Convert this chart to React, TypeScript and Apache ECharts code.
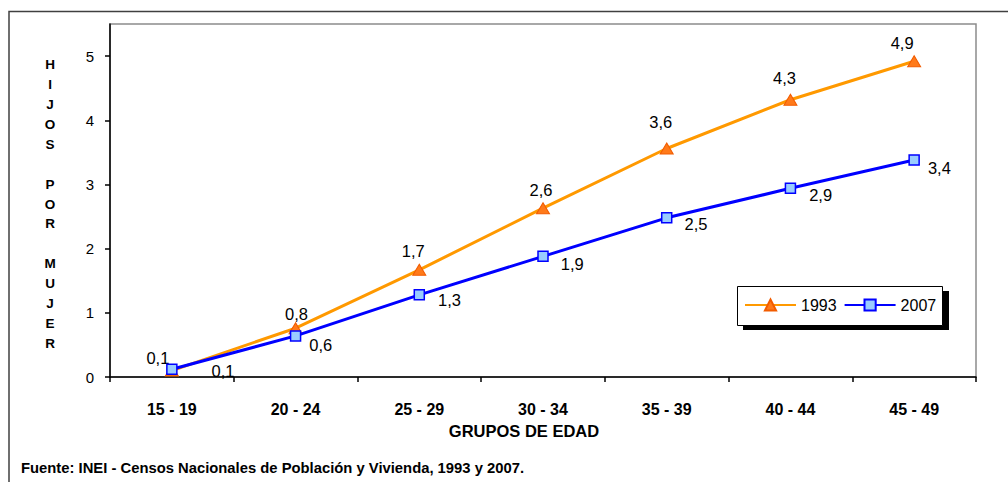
import { useEffect, useRef } from "react";
import * as echarts from "echarts";

const categories = ["15 - 19", "20 - 24", "25 - 29", "30 - 34", "35 - 39", "40 - 44", "45 - 49"];
const values1993 = [0.1, 0.76, 1.67, 2.63, 3.56, 4.32, 4.92];
const values2007 = [0.12, 0.64, 1.28, 1.88, 2.48, 2.94, 3.38];
const yTickValues = [0, 1, 2, 3, 4, 5];
const seriesNames = ["1993", "2007"];
const yTitle = "HIJOS POR MUJER";
const xTitle = "GRUPOS DE EDAD";
const sourceText = "Fuente: INEI - Censos Nacionales de Población y Vivienda, 1993 y 2007.";

// label placement tweaks (style, not data)
const labelOffsets1993 = [[-14, 7], [1, 5], [-6, 1], [-2, 1], [-6, -7], [-6, -2], [-12, 1]];
const labelOffsets2007 = [[29, 2], [3, 9], [8, 5], [7, 8], [7, 6], [8, 7], [3, 8]];

const NARROW = '"Liberation Sans Narrow", "Arial Narrow", "Liberation Sans", Arial, sans-serif';
const WIDE = '"Liberation Sans", Arial, sans-serif';

const fmt = (v: number) => v.toFixed(1).replace(".", ",");

export default function App() {
  const ref = useRef<HTMLDivElement>(null);
  useEffect(() => {
    if (!ref.current) return;
    const chart = echarts.init(ref.current, undefined, { renderer: "svg" });
    const yTitleText = yTitle
      .split(" ")
      .map((w) => w.split("").join("\n"))
      .join("\n\n");
    chart.setOption({
      animation: false,
      backgroundColor: "#ffffff",
      textStyle: { fontFamily: NARROW },
      grid: {
        left: 110,
        top: 24,
        right: 32,
        bottom: 105,
        show: true,
        borderColor: "#8c8c8c",
        borderWidth: 1.5,
        backgroundColor: "transparent",
      },
      graphic: [
        {
          type: "rect",
          z: 0,
          silent: true,
          shape: { x: 9, y: 11.5, width: 1200, height: 600 },
          style: { fill: "none", stroke: "#404040", lineWidth: 1.5 },
        },
        {
          type: "rect",
          z: 1,
          silent: true,
          shape: { x: 743, y: 291, width: 206, height: 39 },
          style: { fill: "#000000" },
        },
        {
          type: "rect",
          z: 1,
          silent: true,
          shape: { x: 737.5, y: 286.5, width: 205, height: 39 },
          style: { fill: "#ffffff", stroke: "#000000", lineWidth: 1 },
        },
        {
          type: "text",
          z: 2,
          x: 50,
          y: 204,
          style: {
            text: yTitleText,
            font: `bold 13.5px ${WIDE}`,
            lineHeight: 19.9,
            fill: "#000",
            textAlign: "center",
            textVerticalAlign: "middle",
          },
        },
        {
          type: "text",
          z: 2,
          x: 524,
          y: 431,
          style: {
            text: xTitle,
            font: `bold 16.5px ${NARROW}`,
            fill: "#000",
            textAlign: "center",
            textVerticalAlign: "middle",
          },
        },
        {
          type: "text",
          z: 2,
          x: 21,
          y: 468,
          style: {
            text: sourceText,
            font: `bold 14.8px ${NARROW}`,
            fill: "#000",
            textAlign: "left",
            textVerticalAlign: "middle",
          },
        },
      ],
      legend: {
        z: 10,
        left: 744,
        top: 297,
        padding: 0,
        itemWidth: 51,
        itemHeight: 14,
        itemGap: 7,
        data: seriesNames,
        textStyle: { fontFamily: NARROW, fontSize: 16, color: "#000" },
      },
      xAxis: {
        type: "category",
        data: categories,
        boundaryGap: true,
        axisLine: { lineStyle: { color: "#000", width: 1.5 } },
        axisTick: { show: true, interval: 0, length: 5, inside: false, lineStyle: { color: "#000", width: 1.5 } },
        axisLabel: {
          interval: 0,
          margin: 24,
          fontFamily: NARROW,
          fontSize: 16,
          fontWeight: "bold",
          color: "#000",
        },
        splitLine: { show: false },
      },
      yAxis: {
        type: "value",
        min: 0,
        max: 5.5,
        interval: 1,
        axisLine: { show: true, lineStyle: { color: "#000", width: 1.5 } },
        axisTick: { show: true, length: 5, customValues: yTickValues, lineStyle: { color: "#000", width: 1.5 } },
        axisLabel: {
          customValues: yTickValues,
          margin: 16,
          fontFamily: NARROW,
          fontSize: 15,
          color: "#000",
        },
        splitLine: { show: false },
      },
      series: [
        {
          name: seriesNames[0],
          type: "line",
          z: 2,
          data: values1993.map((v, i) => ({
            value: v,
            label: { offset: labelOffsets1993[i] },
          })),
          symbol: "triangle",
          symbolSize: [13, 11],
          lineStyle: { color: "#FF9900", width: 3 },
          itemStyle: { color: "#FF7A1A", borderColor: "#F25C00", borderWidth: 1 },
          label: {
            show: true,
            position: "top",
            distance: 5,
            formatter: (p: any) => fmt(p.value),
            fontFamily: NARROW,
            fontSize: 16.5,
            color: "#000",
          },
        },
        {
          name: seriesNames[1],
          type: "line",
          z: 3,
          data: values2007.map((v, i) => ({
            value: v,
            label: { offset: labelOffsets2007[i] },
          })),
          symbol: "rect",
          symbolSize: 10,
          lineStyle: { color: "#0000FF", width: 3 },
          itemStyle: { color: "#99CCFF", borderColor: "#0000FF", borderWidth: 1.5 },
          label: {
            show: true,
            position: "right",
            distance: 5,
            formatter: (p: any) => fmt(p.value),
            fontFamily: NARROW,
            fontSize: 16.5,
            color: "#000",
          },
        },
      ],
    });
    return () => chart.dispose();
  }, []);
  return (
    <div
      ref={ref}
      style={{ position: "fixed", left: 0, top: 0, width: 1008, height: 482 }}
    />
  );
}
